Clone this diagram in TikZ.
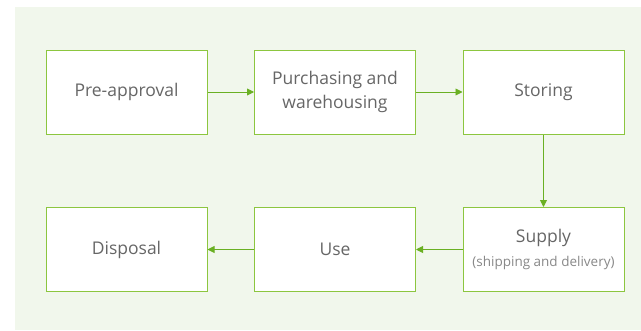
\documentclass[tikz,border=0pt]{standalone}
\usepackage{fontspec}
\setmainfont{Open Sans}
\usetikzlibrary{arrows.meta}
\definecolor{panel}{HTML}{F1F7EC}
\definecolor{boxline}{HTML}{8CC63F}
\definecolor{arr}{HTML}{6AB023}
\definecolor{txt}{HTML}{666666}
\definecolor{subtxt}{HTML}{888888}
\tikzset{
  stage/.style={draw=boxline, line width=1pt, fill=white, minimum width=161pt, minimum height=84pt, inner sep=0pt, align=center, text=txt, font=\fontsize{17.5}{24}\selectfont},
  flow/.style={draw=arr, line width=0.9pt, -{Triangle[length=7pt,width=7pt]}}
}
\begin{document}
\begin{tikzpicture}[x=1pt,y=-1pt]
\useasboundingbox (0,0) rectangle (641,330);
\fill[panel] (15,7) rectangle (641,330);
\node[stage] (a) at (126.5,92) {Pre-approval};
\node[stage] (b) at (335,92) {Purchasing and\\warehousing};
\node[stage] (c) at (543.5,92) {Storing};
\node[stage] (d) at (543.5,249.5) {Supply\\{\color{subtxt}\fontsize{13.5}{18}\selectfont (shipping and delivery)}};
\node[stage] (e) at (335,249.5) {Use};
\node[stage] (f) at (126.5,249.5) {Disposal};
\draw[flow] (a) -- (b);
\draw[flow] (b) -- (c);
\draw[flow] (c) -- (d);
\draw[flow] (d) -- (e);
\draw[flow] (e) -- (f);
\end{tikzpicture}
\end{document}
